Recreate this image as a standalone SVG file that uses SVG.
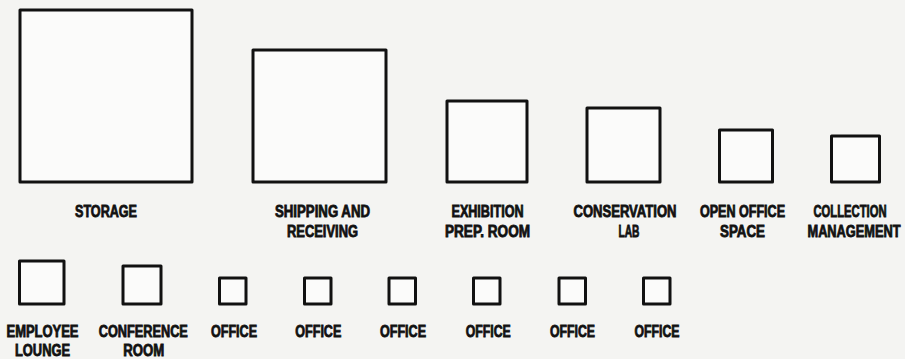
<svg xmlns="http://www.w3.org/2000/svg" width="905" height="359" viewBox="0 0 905 359">
<style>
.box{fill:#fbfbfa;stroke:#111;stroke-width:3;stroke-linejoin:round}
.lbl{font-family:"Liberation Sans Narrow","Liberation Sans","DejaVu Sans Condensed",sans-serif;font-weight:bold;font-size:16px;fill:#111;stroke:#111;stroke-width:0.8;text-anchor:middle}
</style>
<rect width="905" height="359" fill="#f4f4f2"/>
<g id="storage"><rect class="box" x="20" y="10" width="172" height="172"/><text class="lbl" x="106" y="217" textLength="62" lengthAdjust="spacingAndGlyphs">STORAGE</text></g>
<g id="shipping"><rect class="box" x="253" y="50" width="133" height="132"/><text class="lbl" x="322.5" y="217" textLength="95" lengthAdjust="spacingAndGlyphs">SHIPPING AND</text><text class="lbl" x="322.5" y="236.5" textLength="71" lengthAdjust="spacingAndGlyphs">RECEIVING</text></g>
<g id="exhibition"><rect class="box" x="447" y="101" width="80" height="81"/><text class="lbl" x="487.5" y="217" textLength="72" lengthAdjust="spacingAndGlyphs">EXHIBITION</text><text class="lbl" x="487.5" y="236.5" textLength="85" lengthAdjust="spacingAndGlyphs">PREP. ROOM</text></g>
<g id="conservation"><rect class="box" x="587" y="108" width="73" height="74"/><text class="lbl" x="625" y="217" textLength="103" lengthAdjust="spacingAndGlyphs">CONSERVATION</text><text class="lbl" x="629" y="236.5" textLength="21" lengthAdjust="spacingAndGlyphs">LAB</text></g>
<g id="open-office"><rect class="box" x="719.5" y="130" width="53" height="52"/><text class="lbl" x="742.5" y="217" textLength="85" lengthAdjust="spacingAndGlyphs">OPEN OFFICE</text><text class="lbl" x="742.5" y="236.5" textLength="45" lengthAdjust="spacingAndGlyphs">SPACE</text></g>
<g id="collection"><rect class="box" x="831.5" y="136" width="48" height="46"/><text class="lbl" x="850" y="217" textLength="73" lengthAdjust="spacingAndGlyphs">COLLECTION</text><text class="lbl" x="854" y="236.5" textLength="93" lengthAdjust="spacingAndGlyphs">MANAGEMENT</text></g>
<g id="employee-lounge"><rect class="box" x="19.5" y="261" width="44.5" height="43"/><text class="lbl" x="42.5" y="337" textLength="72" lengthAdjust="spacingAndGlyphs">EMPLOYEE</text><text class="lbl" x="42.5" y="356" textLength="55" lengthAdjust="spacingAndGlyphs">LOUNGE</text></g>
<g id="conference-room"><rect class="box" x="123" y="266" width="38" height="38"/><text class="lbl" x="143.3" y="337" textLength="89" lengthAdjust="spacingAndGlyphs">CONFERENCE</text><text class="lbl" x="143.7" y="356" textLength="41" lengthAdjust="spacingAndGlyphs">ROOM</text></g>
<g id="office-1"><rect class="box" x="219.5" y="278" width="26.5" height="26"/><text class="lbl" x="234" y="337" textLength="46" lengthAdjust="spacingAndGlyphs">OFFICE</text></g>
<g id="office-2"><rect class="box" x="304.5" y="278" width="26.5" height="26"/><text class="lbl" x="318.3" y="337" textLength="46" lengthAdjust="spacingAndGlyphs">OFFICE</text></g>
<g id="office-3"><rect class="box" x="389" y="278" width="26.5" height="26"/><text class="lbl" x="403" y="337" textLength="46" lengthAdjust="spacingAndGlyphs">OFFICE</text></g>
<g id="office-4"><rect class="box" x="473.5" y="278" width="26.5" height="26"/><text class="lbl" x="488.3" y="337" textLength="45" lengthAdjust="spacingAndGlyphs">OFFICE</text></g>
<g id="office-5"><rect class="box" x="559" y="278" width="26.5" height="26"/><text class="lbl" x="572.5" y="337" textLength="45" lengthAdjust="spacingAndGlyphs">OFFICE</text></g>
<g id="office-6"><rect class="box" x="643.5" y="278" width="26.5" height="26"/><text class="lbl" x="657" y="337" textLength="45" lengthAdjust="spacingAndGlyphs">OFFICE</text></g>
<g id="connectors"></g>
</svg>
